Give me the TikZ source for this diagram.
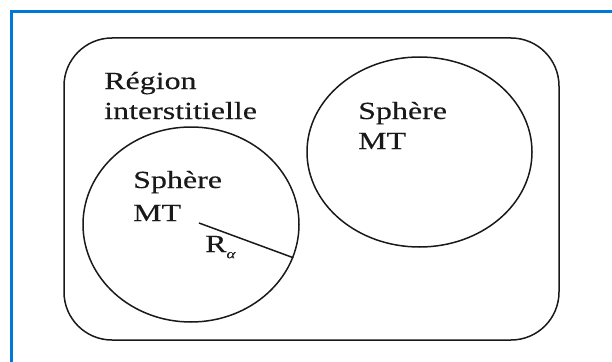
\documentclass[tikz,border=0pt]{standalone}
\usepackage{fontspec}
\setmainfont{Liberation Serif}
\newfontfamily\widefont[FakeStretch=1.3,FakeBold=0.3]{Liberation Serif}
\usetikzlibrary{shapes.geometric}
\definecolor{frameblue}{RGB}{0,120,215}
\definecolor{ink}{RGB}{25,25,25}
\begin{document}
\begin{tikzpicture}[x=1pt,y=-1pt,
  outline/.style={draw=ink,line width=1.5pt},
  sphere/.style={outline,ellipse,inner sep=0pt},
  label/.style={anchor=base west,inner sep=0pt,text=ink,font=\widefont\fontsize{24.6}{28}\selectfont}]
  \useasboundingbox (0,0) rectangle (612,361);
  % outer frame
  \draw[frameblue,line width=2.4pt] (11.5,11.5) rectangle (640,390);
  % interstitial region
  \node[outline,rounded corners=48pt,minimum width=495pt,minimum height=302pt,inner sep=0pt]
    (region) at (311.5,189) {};
  % muffin-tin spheres
  \node[sphere,minimum width=216pt,minimum height=195pt] (left) at (191,224.5) {};
  \node[sphere,minimum width=225pt,minimum height=190pt] (right) at (419.5,152) {};
  % radius of the left sphere
  \coordinate (rstart) at (199,223);
  \coordinate (rend) at (left.-18.4);
  \draw[draw=ink,line width=1.5pt] (rstart) -- (rend);
  % texts
  \node[label] (reg1) at (104,89) {Région};
  \node[label] (reg2) at (104,119) {interstitielle};
  \node[label] (ls1) at (133,188) {Sphère};
  \node[label] (ls2) at (133,221) {MT};
  \node[label] (rs1) at (358,119) {Sphère};
  \node[label] (rs2) at (358,149) {MT};
  \node[label] (ra) at (205,252) {R\raisebox{-0.25em}{\fontsize{13}{13}\selectfont\itshape α}};
\end{tikzpicture}
\end{document}
